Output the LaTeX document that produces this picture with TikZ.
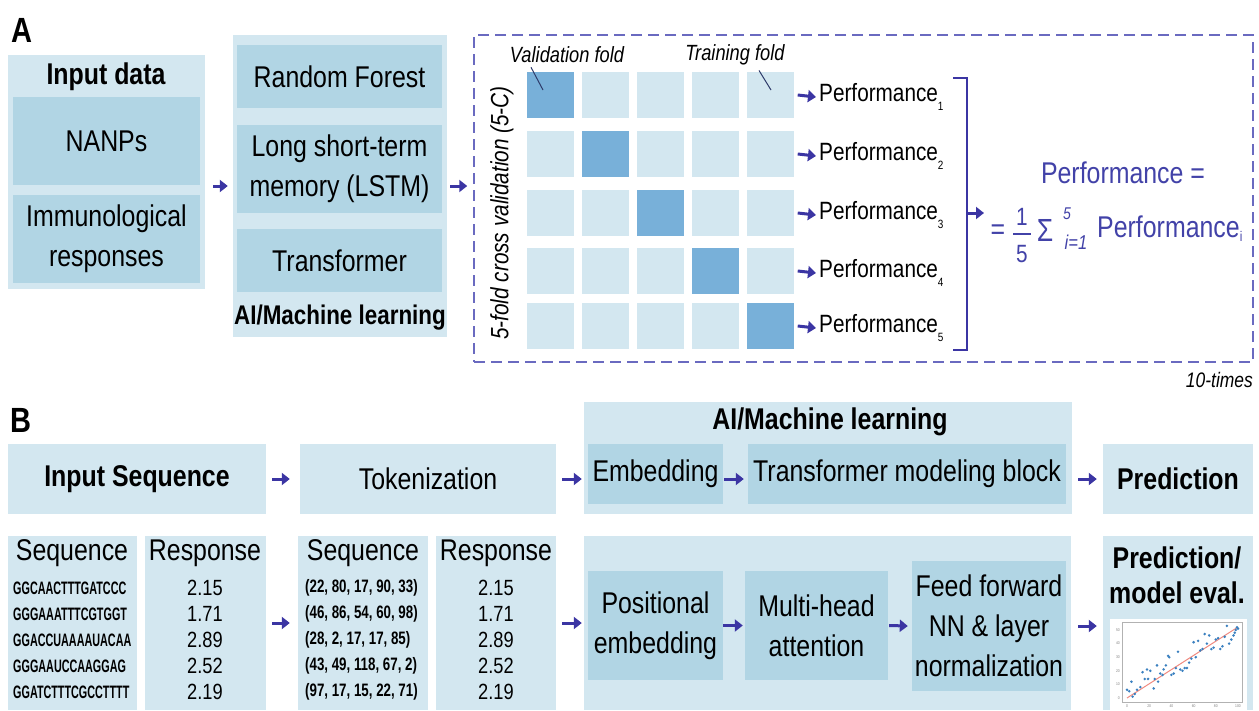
\documentclass[tikz,border=0pt]{standalone}
\usepackage{fontspec}
\setmainfont{Liberation Sans}[FakeStretch=0.83]
\newfontfamily\dnafont{Liberation Sans}[FakeStretch=0.6]
\newfontfamily\tokfont{Liberation Sans}[FakeStretch=0.74]
\usetikzlibrary{arrows.meta,fit,calc}

\definecolor{lightbg}{HTML}{D3E7F0}
\definecolor{midbg}{HTML}{B1D5E4}
\definecolor{darkcell}{HTML}{78B0D9}
\definecolor{arrowblue}{HTML}{3B35A3}
\definecolor{formblue}{HTML}{4242A8}
\definecolor{dashblue}{HTML}{6A6AC0}
\definecolor{ptrcol}{HTML}{2E3B6A}
\definecolor{dotblue}{HTML}{3A80C0}
\definecolor{fitline}{HTML}{F08A80}

\newcommand\perfsub[1]{\raisebox{-9pt}{\fontsize{12}{12}\selectfont #1}}

\tikzset{
  outerbox/.style={fill=lightbg, inner sep=0pt},
  innerbox/.style={fill=midbg, inner sep=0pt},
  headtxt/.style={font=\bfseries\fontsize{30}{35}\selectfont, align=center},
  bodytxt/.style={font=\fontsize{30}{40}\selectfont, align=center},
  panel/.style={font=\bfseries\fontsize{35}{40}\selectfont},
  notetxt/.style={font=\itshape\fontsize{22}{26}\selectfont, inner sep=2pt},
  cell/.style={minimum width=47pt, minimum height=46pt, inner sep=0pt},
  perf/.style={font=\fontsize{25}{30}\selectfont, anchor=west, inner sep=3pt},
  formtxt/.style={text=formblue, font=\fontsize{30}{36}\selectfont, inner sep=2pt},
  arr/.style={draw=arrowblue, line width=3pt, -{Triangle[length=8pt,width=12pt]}},
  dnatxt/.style={font=\dnafont\bfseries\fontsize{18}{20}\selectfont, anchor=west, inner sep=0pt},
  toktxt/.style={font=\tokfont\bfseries\fontsize{18}{20}\selectfont, anchor=west, inner sep=0pt},
  val/.style={font=\fontsize{22}{26}\selectfont, inner sep=0pt},
  ticktxt/.style={font=\fontsize{4}{4}\selectfont, text=gray, inner sep=0pt},
}

\begin{document}
\begin{tikzpicture}[x=1pt, y=-1pt]
  \useasboundingbox (0,0) rectangle (1259,710);

  % ---- A: models and 5-fold cross validation ----
  \node[panel] (labA) at (22,30) {A};

  \node[outerbox, fit={(8,55) (205,289)}] (inp) {};
  \node[headtxt] (inptitle) at (106,77) {Input data};
  \node[innerbox, fit={(13,97) (200,185)}] (nanp) {};
  \node[bodytxt] (nanptxt) at (nanp.center) {NANPs};
  \node[innerbox, fit={(13,195) (200,283)}] (immu) {};
  \node[bodytxt] (immutxt) at (immu.center) {Immunological\\responses};

  \node[outerbox, fit={(233,35) (447,337)}] (ml) {};
  \node[innerbox, fit={(237,45) (442,108)}] (rf) {};
  \node[bodytxt] (rftxt) at (rf.center) {Random Forest};
  \node[innerbox, fit={(237,125) (442,213)}] (lstm) {};
  \node[bodytxt] (lstmtxt) at (lstm.center) {Long short-term\\memory (LSTM)};
  \node[innerbox, fit={(237,229) (442,292)}] (trf) {};
  \node[bodytxt] (trftxt) at (trf.center) {Transformer};
  \node[headtxt, font=\bfseries\fontsize{27}{32}\selectfont] (mltitle) at (340,318) {AI/Machine learning};

  \node[fit={(474,35) (1253,362)}, inner sep=0pt, draw=dashblue, line width=1.5pt,
        dash pattern=on 11pt off 6pt] (cv) {};

  \draw[arr] ($(inp.east |- ml.west)+(8,0)$) -- ($(ml.west)+(-5,0)$);
  \draw[arr] ($(ml.east)+(3,0)$) -- ($(cv.west |- ml.east)+(-6,0)$);

  \node[notetxt, rotate=90, font=\itshape\fontsize{25}{30}\selectfont] (cvlab) at (502,213) {5-fold cross validation (5-C)};

  \foreach \r/\y in {1/95,2/154,3/213,4/271,5/326} {
    \foreach \c in {1,...,5} {
      \ifnum\r=\c \def\cf{darkcell}\else\def\cf{lightbg}\fi
      \node[cell, fill=\cf] (c\r\c) at ({495+55*\c},\y) {};
    }
    \node[perf] (p\r) at (816,{\y+2}) {Performance\perfsub{\r}};
    \draw[arr] ($(c\r5.east)+(4,0)$) -- (p\r.west);
  }

  \node[notetxt] (valid) at (567,55) {Validation fold};
  \node[notetxt] (train) at (735,55) {Training fold};
  \draw[ptrcol, line width=1pt] ($(valid.south)+(-36,2)$) -- ($(c11.center)+(-7,-5)$);
  \draw[ptrcol, line width=1pt] ($(train.south)+(24,3)$) -- ($(c15.center)+(1,-5)$);

  % bracket and the averaged score
  \coordinate (brtop) at (967,78);
  \coordinate (brbot) at (967,350);
  \coordinate (brmid) at (967,213);
  \coordinate (fin) at (984,213);
  \draw[arrowblue, line width=2pt] ($(brtop)+(-14,0)$) -- (brtop) -- (brbot) -- ($(brbot)+(-14,0)$);
  \draw[arr] (brmid) -- (fin);

  \node[formtxt] (ftop) at (1123,173) {Performance =};
  \node[formtxt] (feq) at (998,232) {=};
  \node[formtxt, font=\fontsize{25}{30}\selectfont] (fnum) at (1022,217) {1};
  \node[formtxt, font=\fontsize{25}{30}\selectfont] (fden) at (1022,254) {5};
  \draw[formblue, line width=1.5pt] (1013,234) -- (1031,234);
  \node[formtxt, font=\fontsize{32}{36}\selectfont] (fsum) at (1045,230) {Σ};
  \node[formtxt, font=\itshape\fontsize{17}{20}\selectfont] (fsup) at (1067,214) {5};
  \node[formtxt, font=\itshape\fontsize{20}{24}\selectfont] (fsub) at (1076,242) {i=1};
  \node[formtxt, anchor=base west] (fperf) at (1095,237) {Performance\raisebox{-4pt}{\fontsize{14}{14}\selectfont i}};

  \node[notetxt, anchor=east, font=\itshape\fontsize{21}{25}\selectfont] (times) at (1255,380) {10-times};

  % ---- B: transformer pipeline ----
  \node[panel] (labB) at (21,420) {B};

  \node[outerbox, fit={(8,444) (266,514)}] (inseq) {};
  \node[headtxt] (inseqtxt) at (inseq.center) {Input Sequence};
  \node[outerbox, fit={(300,444) (556,514)}] (tok) {};
  \node[bodytxt] (toktxt) at (tok.center) {Tokenization};
  \node[outerbox, fit={(584,402) (1072,514)}] (aiml) {};
  \node[headtxt] (aimltitle) at (830,422) {AI/Machine learning};
  \node[innerbox, fit={(588,444) (723,504)}] (emb) {};
  \node[bodytxt] (embtxt) at (emb.center) {Embedding};
  \node[innerbox, fit={(748,444) (1066,504)}] (tmb) {};
  \node[bodytxt] (tmbtxt) at (tmb.center) {Transformer modeling block};
  \node[outerbox, fit={(1103,444) (1253,514)}] (pred) {};
  \node[headtxt] (predtxt) at (pred.center) {Prediction};

  \draw[arr] ($(inseq.east)+(6,0)$) -- ($(tok.west)+(-10,0)$);
  \draw[arr] ($(tok.east)+(6,0)$) -- ($(aiml.west |- tok.west)+(-2,0)$);
  \draw[arr] ($(emb.east |- inseq.east)+(1,0)$) -- ($(tmb.west |- inseq.east)+(-4,0)$);
  \draw[arr] ($(tmb.east |- inseq.east)+(12,0)$) -- ($(pred.west)+(-6,0)$);

  \node[outerbox, fit={(8,536) (137,710)}] (seqA) {};
  \node[outerbox, fit={(145,536) (266,710)}] (respA) {};
  \node[outerbox, fit={(298,536) (428,710)}] (seqB) {};
  \node[outerbox, fit={(436,536) (556,710)}] (respB) {};
  \node[bodytxt] (hsA) at (72,553) {Sequence};
  \node[bodytxt] (hrA) at (205,553) {Response};
  \node[bodytxt] (hsB) at (363,553) {Sequence};
  \node[bodytxt] (hrB) at (496,553) {Response};

  \foreach \i/\s/\t/\v in {1/GGCAACTTTGATCCC/{(22, 80, 17, 90, 33)}/2.15,
                          2/GGGAAATTTCGTGGT/{(46, 86, 54, 60, 98)}/1.71,
                          3/GGACCUAAAAUACAA/{(28, 2, 17, 17, 85)}/2.89,
                          4/GGGAAUCCAAGGAG/{(43, 49, 118, 67, 2)}/2.52,
                          5/GGATCTTTCGCCTTTT/{(97, 17, 15, 22, 71)}/2.19} {
    \node[dnatxt] (sa\i) at (13,{562+26*\i}) {\s};
    \node[val] (ra\i) at (205,{562+26*\i}) {\v};
    \node[toktxt] (sb\i) at (305,{562+26*\i}) {\t};
    \node[val] (rb\i) at (496,{562+26*\i}) {\v};
  }

  \node[outerbox, fit={(584,536) (1071,710)}] (aiml2) {};
  \node[innerbox, fit={(588,571) (723,680)}] (pos) {};
  \node[bodytxt] (postxt) at (pos.center) {Positional\\embedding};
  \node[innerbox, fit={(745,571) (888,680)}] (mha) {};
  \node[bodytxt] (mhatxt) at (mha.center) {Multi-head\\attention};
  \node[innerbox, fit={(912,561) (1066,691)}] (ffn) {};
  \node[bodytxt] (ffntxt) at (ffn.center) {Feed forward\\NN \& layer\\normalization};
  \node[outerbox, fit={(1103,536) (1253,710)}] (pred2) {};
  \node[headtxt] (pred2title) at (1177,575) {Prediction/\\model eval.};

  \draw[arr] ($(respA.east)+(6,0)$) -- ($(seqB.west)+(-8,0)$);
  \draw[arr] ($(respB.east)+(6,0)$) -- ($(aiml2.west)+(-2,0)$);
  \draw[arr] (pos.east) -- ($(mha.west)+(-2,0)$);
  \draw[arr] ($(mha.east)+(1,0)$) -- ($(ffn.west)+(-4,0)$);
  \draw[arr] ($(ffn.east)+(12,0)$) -- ($(pred2.west |- ffn.east)+(-6,0)$);

  % scatter of predicted vs measured
  \fill[white] (1110,619) rectangle (1247,710);
  \draw[gray!60, line width=0.5pt] (1122,622) rectangle (1242,702);
  \draw[fitline, line width=1pt] (1127,698) -- (1238,627);
  \foreach \u/\v in {0/6,2/5,4/12,5/1,7/3,9/6,12/8,14/19,16/14,18/21,19/14,21/20,24/7,25/14,
                     27/24,28/12,30/18,32/17,33/21,35/24,37/31,38/30,40/17,42/18,44/22,46/34,
                     48/21,50/20,52/22,54/22,56/26,58/29,60/41,62/30,64/42,66/35,68/36,70/47,
                     72/40,74/46,76/36,78/37,80/43,82/44,84/36,86/38,88/45,90/53,92/40,94/43,
                     96/46,97/48,98/50,99/52,100/51}
    \fill[dotblue] ({1127+1.11*\u},{698-1.36*\v}) circle (1.4pt);
  \foreach \u in {0,20,...,100}
    \node[ticktxt] (xt\u) at ({1127+1.11*\u},706.5) {\u};
  \foreach \v in {0,10,...,50}
    \node[ticktxt, anchor=east] (yt\v) at (1120,{698-1.36*\v}) {\v};
\end{tikzpicture}
\end{document}
